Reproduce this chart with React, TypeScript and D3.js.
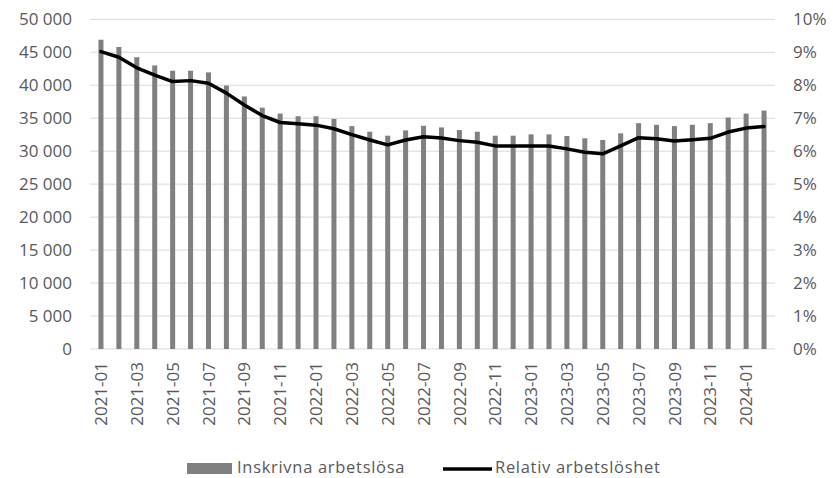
import React from "react";
import * as d3 from "d3";

// Monthly registered unemployed (count) and relative unemployment (%)
const months: string[] = [
  "2021-01", "2021-02", "2021-03", "2021-04", "2021-05", "2021-06",
  "2021-07", "2021-08", "2021-09", "2021-10", "2021-11", "2021-12",
  "2022-01", "2022-02", "2022-03", "2022-04", "2022-05", "2022-06",
  "2022-07", "2022-08", "2022-09", "2022-10", "2022-11", "2022-12",
  "2023-01", "2023-02", "2023-03", "2023-04", "2023-05", "2023-06",
  "2023-07", "2023-08", "2023-09", "2023-10", "2023-11", "2023-12",
  "2024-01", "2024-02",
];

const registered: number[] = [
  46900, 45800, 44250, 43000, 42200, 42200,
  41950, 39950, 38300, 36600, 35700, 35300,
  35300, 34900, 33800, 32950, 32350, 33150,
  33850, 33600, 33200, 32950, 32350, 32350,
  32550, 32550, 32300, 31950, 31700, 32700,
  34250, 34000, 33800, 34000, 34250, 35100,
  35700, 36150,
];

const relative: number[] = [
  9.02, 8.85, 8.53, 8.31, 8.11, 8.14,
  8.06, 7.76, 7.40, 7.08, 6.87, 6.83,
  6.79, 6.68, 6.50, 6.34, 6.19, 6.34,
  6.44, 6.40, 6.32, 6.27, 6.16, 6.16,
  6.16, 6.16, 6.07, 5.97, 5.92, 6.16,
  6.41, 6.38, 6.31, 6.35, 6.39, 6.58,
  6.70, 6.75,
];

const leftTicks: number[] = [0, 5000, 10000, 15000, 20000, 25000, 30000, 35000, 40000, 45000, 50000];
const rightTicks: number[] = [0, 1, 2, 3, 4, 5, 6, 7, 8, 9, 10];

const seriesNames = ["Inskrivna arbetslösa", "Relativ arbetslöshet"];

const W = 833;
const H = 478;
const plotLeft = 90;
const plotRight = 775;
const plotTop = 19.3;
const plotBottom = 349;

const FONT = "'Open Sans', 'Noto Sans', sans-serif";
const TEXT = "#595959";
const BAR = "#808080";
const GRID = "#d9d9d9";

export default function App() {
  const x = d3.scaleBand<string>().domain(months).range([92, 773]).paddingInner(0.72).paddingOuter(0.36);
  const yL = d3.scaleLinear().domain([0, 50000]).range([plotBottom, plotTop]);
  const yR = d3.scaleLinear().domain([0, 10]).range([plotBottom, plotTop]);
  const cx = (m: string) => (x(m) as number) + x.bandwidth() / 2;

  const fmt = (v: number) => d3.format(",")(v).replace(/,/g, " ");

  const line = d3
    .line<number>()
    .x((_, i) => cx(months[i]))
    .y((d) => yR(d));

  return (
    <svg width={W} height={H} style={{ position: "absolute", left: 0, top: 0, background: "#fff" }}>
      {/* gridlines */}
      {leftTicks.map((t) => (
        <line key={"g" + t} x1={plotLeft} x2={plotRight} y1={yL(t)} y2={yL(t)} stroke={GRID} strokeWidth={1} />
      ))}
      {/* bars */}
      {registered.map((v, i) => (
        <rect key={"b" + i} x={x(months[i])} y={yL(v)} width={x.bandwidth()} height={yL(0) - yL(v)} fill={BAR} />
      ))}
      {/* line */}
      <path d={line(relative) ?? ""} fill="none" stroke="#000" strokeWidth={3.5} strokeLinejoin="round" strokeLinecap="round" />
      {/* left axis labels */}
      {leftTicks.map((t) => (
        <text key={"l" + t} x={72} y={yL(t)} dy="0.36em" textAnchor="end" fontFamily={FONT} fontSize={17} fill={TEXT}>
          {fmt(t)}
        </text>
      ))}
      {/* right axis labels */}
      {rightTicks.map((t) => (
        <text key={"r" + t} x={793} y={yR(t)} dy="0.36em" textAnchor="start" fontFamily={FONT} fontSize={17} fill={TEXT}>
          {t + "%"}
        </text>
      ))}
      {/* x labels */}
      {months.map((m, i) =>
        i % 2 === 0 ? (
          <text
            key={"x" + m}
            transform={`translate(${cx(m)},362) rotate(-90)`}
            dy="0.36em"
            textAnchor="end"
            fontFamily={FONT}
            fontSize={17}
            fill={TEXT}
          >
            {m}
          </text>
        ) : null
      )}
      {/* legend */}
      <rect x={187} y={463} width={45} height={11} fill={BAR} />
      <text x={237} y={473} fontFamily={FONT} fontSize={16.5} letterSpacing={0.7} fill={TEXT}>
        {seriesNames[0]}
      </text>
      <line x1={443} x2={492} y1={469} y2={469} stroke="#000" strokeWidth={3.5} />
      <text x={495} y={473} fontFamily={FONT} fontSize={16.5} letterSpacing={0.7} fill={TEXT}>
        {seriesNames[1]}
      </text>
    </svg>
  );
}
